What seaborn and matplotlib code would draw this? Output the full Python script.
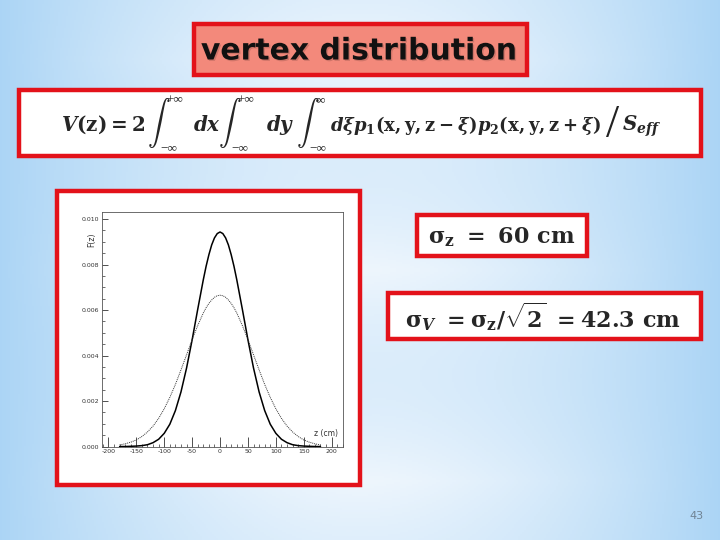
import numpy as np
import pandas as pd
import matplotlib
matplotlib.use("Agg")
import matplotlib.pyplot as plt
from matplotlib.patches import Rectangle
from matplotlib.ticker import MultipleLocator
import matplotlib.patheffects as pe
import seaborn as sns

# values (z in cm, F(z))
z_cm = [-180, -170, -160, -150, -140, -130, -120, -110, -100, -90, -80, -70, -60, -50, -40, -30, -25, -20, -15, -10, -5, 0,
        5, 10, 15, 20, 25, 30, 40, 50, 60, 70, 80, 90, 100, 110, 120, 130, 140, 150, 160, 170, 180]
f_vertex = [0.0, 0.0, 0.00001, 0.00002, 0.00004, 0.00008, 0.00017, 0.00032, 0.00058, 0.00098, 0.00158, 0.00240,
            0.00345, 0.00469, 0.00603, 0.00733, 0.00792, 0.00843, 0.00886, 0.00917, 0.00936, 0.00943,
            0.00936, 0.00917, 0.00886, 0.00843, 0.00792, 0.00733, 0.00603, 0.00469, 0.00345, 0.00240, 0.00158,
            0.00098, 0.00058, 0.00032, 0.00017, 0.00008, 0.00004, 0.00002, 0.00001, 0.0, 0.0]
f_bunch = [0.00007, 0.00012, 0.00019, 0.00029, 0.00044, 0.00064, 0.00090, 0.00124, 0.00166, 0.00216, 0.00273,
           0.00337, 0.00403, 0.00470, 0.00532, 0.00587, 0.00610, 0.00629, 0.00644, 0.00656, 0.00663, 0.00665,
           0.00663, 0.00656, 0.00644, 0.00629, 0.00610, 0.00587, 0.00532, 0.00470, 0.00403, 0.00337, 0.00273,
           0.00216, 0.00166, 0.00124, 0.00090, 0.00064, 0.00044, 0.00029, 0.00019, 0.00012, 0.00007]
x_ticks = [-200, -150, -100, -50, 0, 50, 100, 150, 200]
y_ticks = [0.000, 0.002, 0.004, 0.006, 0.008, 0.010]

sns.set_style("white")
plt.rcParams["font.family"] = ["DejaVu Sans"]
plt.rcParams["mathtext.fontset"] = "custom"
plt.rcParams["mathtext.rm"] = "DejaVu Serif:bold"
plt.rcParams["mathtext.bf"] = "DejaVu Serif:bold"
plt.rcParams["mathtext.it"] = "DejaVu Serif:bold:italic"

fig = plt.figure(figsize=(7.2, 5.4), dpi=100)

# slide background: light blue, paler in the middle
bg = fig.add_axes([0, 0, 1, 1])
gx = np.linspace(-1, 1, 360)
gy = np.linspace(-1, 1, 270)
X, Y = np.meshgrid(gx, gy)
t = np.clip(np.abs(X) ** 1.6 * 0.85 + 0.25 * np.abs(np.sin(Y * 4.0)) * (1 - np.abs(X)), 0, 1)
light = np.array([238, 246, 253]) / 255
edge = np.array([160, 207, 244]) / 255
img = light[None, None, :] * (1 - t[..., None]) + edge[None, None, :] * t[..., None]
bg.imshow(img, extent=[0, 720, 540, 0], aspect="auto")
bg.set_xlim(0, 720)
bg.set_ylim(540, 0)
bg.axis("off")

red = "#E3121A"
def box(x0, y0, x1, y1, fc):
    bg.add_patch(Rectangle((x0, y0), x1 - x0, y1 - y0, facecolor=fc, edgecolor=red, lw=3.2))

box(194, 24, 527, 75, "#F3897B")
box(19, 90, 701, 156, "white")
box(57, 191, 360, 485, "white")
box(417, 215, 587, 256, "white")
box(388, 293, 701, 339, "white")

bg.text(359, 51, "vertex distribution", ha="center", va="center", fontsize=21.5, fontweight="bold",
        color="#111111", path_effects=[pe.withSimplePatchShadow(offset=(1.0, -1.0), alpha=0.15)])

# formula, put together piece by piece
base = 131
fs = 14.3
bg.text(61, base, r"$V(\mathrm{z}) = \mathrm{2}$", ha="left", va="baseline", fontsize=fs)
for xi, up, lo in [(147, "+\u221e", "\u2212\u221e"), (218, "+\u221e", "\u2212\u221e"), (296, "\u221e", "\u2212\u221e")]:
    bg.text(xi, 123, r"$\int$", ha="left", va="center", fontsize=16.5, math_fontfamily="cm")
    bg.text(xi + 19, 100, up, ha="left", va="center", fontsize=9.5, family="Liberation Serif")
    bg.text(xi + 13, 148, lo, ha="left", va="center", fontsize=9.5, family="Liberation Serif")
bg.text(193, base, r"$dx$", ha="left", va="baseline", fontsize=fs)
bg.text(266, base, r"$dy$", ha="left", va="baseline", fontsize=fs)
bg.text(330, base, r"$d\xi p_{\mathrm{1}}(\mathrm{x,y,z}-\xi)p_{\mathrm{2}}(\mathrm{x,y,z}+\xi)$",
        ha="left", va="baseline", fontsize=13)
bg.text(613, 126, "/", ha="center", va="center", fontsize=34, family="Liberation Serif", color="#222222")
bg.text(622, base, r"$S_{eff}$", ha="left", va="baseline", fontsize=fs)

bg.text(502, 237, r"$\mathrm{\sigma_z\ =\ 60\ cm}$", ha="center", va="center", fontsize=16)
bg.text(543, 317, r"$\mathrm{\sigma}_{V}\ = \mathrm{\sigma_z}/\sqrt{\mathrm{2}}\ = \mathrm{42.3\ cm}$",
        ha="center", va="center", fontsize=16)
bg.text(697, 516, "43", ha="center", va="center", fontsize=8, color="#708394")

# the plot itself
df = pd.DataFrame({"z": z_cm + z_cm,
                   "F": f_vertex + f_bunch,
                   "curve": ["vertex"] * len(z_cm) + ["bunch"] * len(z_cm)})
ax = fig.add_axes([0.1413, 0.1731, 0.3356, 0.4348])
sns.lineplot(data=df[df["curve"] == "vertex"], x="z", y="F", color="black", lw=1.1, ax=ax)
sns.lineplot(data=df[df["curve"] == "bunch"], x="z", y="F", color="#333333", lw=0.7,
             linestyle=(0, (1, 1)), ax=ax)
ax.set_xlim(-212, 221)
ax.set_ylim(0, 0.01032)
ax.set_xticks(x_ticks)
ax.set_yticks(y_ticks)
ax.set_xticklabels([str(v) for v in x_ticks])
ax.set_yticklabels([f"{v:.3f}" for v in y_ticks])
ax.xaxis.set_minor_locator(MultipleLocator(10))
ax.yaxis.set_minor_locator(MultipleLocator(0.0005))
ax.tick_params(which="major", direction="in", length=7, width=0.6, labelsize=4.5, colors="#333333", pad=2)
ax.tick_params(axis="y", which="major", length=4)
ax.tick_params(which="minor", direction="in", length=2.5, width=0.5, colors="#333333")
ax.tick_params(bottom=True, left=True, which="both")
for s in ax.spines.values():
    s.set_linewidth(0.6)
    s.set_color("#555555")
ax.set_xlabel("")
ax.set_ylabel("")
ax.text(0.978, 0.055, "z (cm)", transform=ax.transAxes, ha="right", va="center", fontsize=5.5, color="#333333")
ax.text(-0.042, 0.88, "F(z)", transform=ax.transAxes, ha="center", va="center", rotation=90,
        fontsize=5.5, color="#333333")

fig.savefig("out.png", dpi=100)
